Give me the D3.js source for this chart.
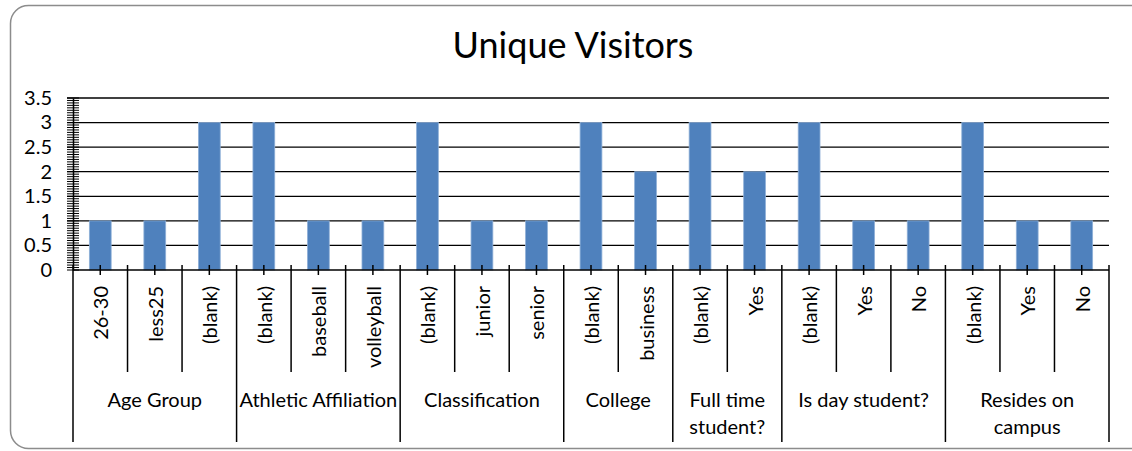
<!DOCTYPE html>
<html>
<head>
<meta charset="utf-8">
<script src="https://cdn.jsdelivr.net/npm/d3@7"></script>
<style>
  body { margin: 0; background: #fff; }
  text { font-family: Lato, "Open Sans", sans-serif; fill: #000; }
</style>
</head>
<body>
<div id="wrapper"></div>
<script>
// chart data
const groups = ["Age Group", "Athletic Affiliation", "Classification", "College",
  "Full time\nstudent?", "Is day student?", "Resides on\ncampus"];
const categories = ["26-30", "less25", "(blank)", "(blank)", "baseball", "volleyball",
  "(blank)", "junior", "senior", "(blank)", "business", "(blank)", "Yes",
  "(blank)", "Yes", "No", "(blank)", "Yes", "No"];
const categoryGroup = [0, 0, 0, 1, 1, 1, 2, 2, 2, 3, 3, 4, 4, 5, 5, 5, 6, 6, 6];
const values = [1, 1, 3, 3, 1, 1, 3, 1, 1, 3, 2, 3, 2, 3, 1, 1, 3, 1, 1];
const yTicks = [0, 0.5, 1, 1.5, 2, 2.5, 3, 3.5];

function drawChart() {
  const width = 1132
  const height = 451
  const plot = { left: 73, right: 1109, top: 98, bottom: 270 }

  const svg = d3.select("#wrapper")
    .append("svg")
    .attr("width", width)
    .attr("height", height);

  // chart border
  svg.append("rect")
    .attr("x", 10.5).attr("y", 5.5)
    .attr("width", 1140).attr("height", 443)
    .attr("rx", 18)
    .attr("fill", "white")
    .attr("stroke", "#8c8c8c")
    .attr("stroke-width", 1.5);

  svg.append("text")
    .attr("x", 573)
    .attr("y", 58)
    .attr("text-anchor", "middle")
    .attr("font-size", "36px")
    .text("Unique Visitors");

  const idx = d3.range(categories.length);
  const xScaler = d3.scaleBand()
    .domain(idx)
    .range([plot.left, plot.right])
    .paddingInner(0.6)
    .paddingOuter(0.3);
  const step = xScaler.step();

  const yScaler = d3.scaleLinear()
    .domain([0, 3.5])
    .range([plot.bottom, plot.top]);

  // gridlines
  svg.append("g")
    .selectAll("line")
    .data(yTicks.filter(d => d > 0))
    .join("line")
    .attr("x1", plot.left - 6).attr("x2", plot.right)
    .attr("y1", d => yScaler(d)).attr("y2", d => yScaler(d))
    .attr("stroke", "#000")
    .attr("stroke-width", 1.3);

  // bars
  svg.append("g")
    .selectAll("rect")
    .data(values)
    .join("rect")
    .attr("x", (d, i) => xScaler(i))
    .attr("y", d => yScaler(d))
    .attr("width", xScaler.bandwidth())
    .attr("height", d => yScaler(0) - yScaler(d))
    .attr("fill", "#4f81bd")
    .attr("stroke", "#8fb0d8")
    .attr("stroke-width", 0.8);

  // y axis with minor ticks
  const yAxisGen = d3.axisLeft(yScaler)
    .tickValues(yTicks)
    .tickSize(0)
    .tickPadding(21)
    .tickFormat(d3.format("~g"));
  const yAxis = svg.append("g")
    .attr("transform", `translate(${plot.left},0)`)
    .call(yAxisGen);
  yAxis.select(".domain").attr("stroke", "#000").attr("stroke-width", 1.5);
  yAxis.selectAll("text")
    .attr("font-size", "20px")
    .attr("font-family", "Lato, sans-serif")
    .attr("fill", "#000");

  const minor = d3.range(0, 71).map(i => i * 0.05);
  svg.append("g")
    .selectAll("line")
    .data(minor)
    .join("line")
    .attr("x1", plot.left - 6).attr("x2", plot.left + 6)
    .attr("y1", d => yScaler(d)).attr("y2", d => yScaler(d))
    .attr("stroke", "#000")
    .attr("stroke-width", 1);

  // x axis baseline
  svg.append("line")
    .attr("x1", plot.left).attr("x2", plot.right)
    .attr("y1", plot.bottom).attr("y2", plot.bottom)
    .attr("stroke", "#000").attr("stroke-width", 1.5);

  // center ticks
  svg.append("g")
    .selectAll("line")
    .data(idx)
    .join("line")
    .attr("x1", i => xScaler(i) + xScaler.bandwidth() / 2)
    .attr("x2", i => xScaler(i) + xScaler.bandwidth() / 2)
    .attr("y1", plot.bottom - 5).attr("y2", plot.bottom + 5)
    .attr("stroke", "#000").attr("stroke-width", 1.5);

  // category boundaries (short ones inside groups, long at group edges)
  const bounds = d3.range(categories.length + 1);
  svg.append("g")
    .selectAll("line")
    .data(bounds)
    .join("line")
    .attr("x1", b => plot.left + b * step)
    .attr("x2", b => plot.left + b * step)
    .attr("y1", plot.bottom - 5)
    .attr("y2", b => (b === 0 || b === categories.length ||
      categoryGroup[b] !== categoryGroup[b - 1]) ? 442 : 372)
    .attr("stroke", "#000").attr("stroke-width", 1.5);

  // rotated category labels
  svg.append("g")
    .selectAll("text")
    .data(categories)
    .join("text")
    .attr("transform", (d, i) =>
      `translate(${xScaler(i) + xScaler.bandwidth() / 2 + 8},286) rotate(-90)`)
    .attr("text-anchor", "end")
    .attr("font-size", "20px")
    .text(d => d);

  // group labels
  const groupLabels = svg.append("g")
    .selectAll("text")
    .data(groups)
    .join("text")
    .attr("x", (g, gi) => {
      const members = idx.filter(i => categoryGroup[i] === gi);
      return plot.left + (d3.min(members) + d3.max(members) + 1) / 2 * step;
    })
    .attr("y", 407)
    .attr("text-anchor", "middle")
    .attr("font-size", "20px");
  groupLabels.selectAll("tspan")
    .data(g => g.split("\n"))
    .join("tspan")
    .attr("x", function() { return this.parentNode.getAttribute("x"); })
    .attr("dy", (d, i) => i === 0 ? 0 : 27)
    .text(d => d);
}

drawChart();
</script>
</body>
</html>
